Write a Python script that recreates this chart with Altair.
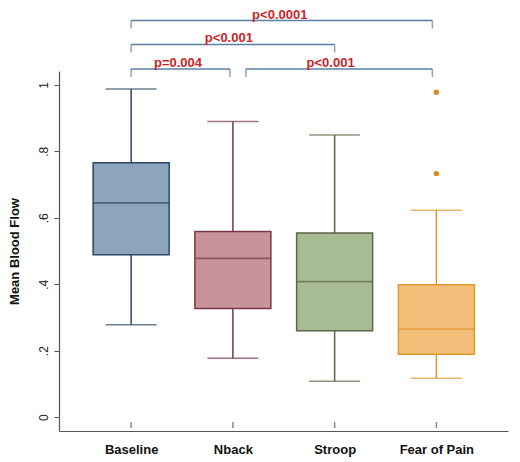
import altair as alt
import pandas as pd

# ---- data ----
cats = ["Baseline", "Nback", "Stroop", "Fear of Pain"]
lower = [0.278, 0.177, 0.108, 0.117]
q1 = [0.489, 0.327, 0.260, 0.189]
median = [0.645, 0.478, 0.408, 0.265]
q3 = [0.766, 0.559, 0.554, 0.398]
upper = [0.988, 0.890, 0.849, 0.623]

outlier_cat = ["Fear of Pain", "Fear of Pain"]
outlier_val = [0.978, 0.733]

y_ticks = [0, 0.2, 0.4, 0.6, 0.8, 1]

cmp_from = ["Baseline", "Baseline", "Baseline", "Nback"]
cmp_to = ["Fear of Pain", "Stroop", "Nback", "Fear of Pain"]
cmp_label = ["p<0.0001", "p<0.001", "p=0.004", "p<0.001"]
cmp_level = [1.194, 1.122, 1.048, 1.048]

# ---- styles ----
fills = ["#8ca5bd", "#c9939b", "#a8bc93", "#f3c07c"]
strokes = ["#2d4762", "#7a3a44", "#5b6644", "#e0972e"]
OUT_COLOR = "#d98b1c"
BR = "#5b7ea6"
RED = "#cc1f27"
FONT = "Liberation Sans"

pos = {c: i + 1 for i, c in enumerate(cats)}
box = pd.DataFrame({"cat": cats, "lower": lower, "q1": q1, "median": median,
                    "q3": q3, "upper": upper})
box["x"] = box["cat"].map(pos)
outs = pd.DataFrame({"cat": outlier_cat, "val": outlier_val})
outs["x"] = outs["cat"].map(pos)

label_expr = " : ".join(
    [f"datum.value == {i + 1} ? '{c}'" for i, c in enumerate(cats)]) + " : ''"

xscale = alt.Scale(domain=[0.34, 4.655], nice=False, zero=False)
yscale = alt.Scale(domain=[-0.042, 1.042], nice=False, zero=False)

X = alt.X("x:Q", scale=xscale, title=None,
          axis=alt.Axis(values=[1, 2, 3, 4], labelExpr=label_expr, ticks=False,
                        grid=False, domainColor="#555555", domainWidth=1.2,
                        labelFont=FONT, labelFontSize=13, labelFontWeight="bold",
                        labelColor="#111111", labelPadding=12))
Yaxis = alt.Axis(values=y_ticks, grid=False, title="Mean Blood Flow",
                 labelExpr="datum.value == 0 ? '0' : datum.value == 1 ? '1' : replace(format(datum.value, '.1f'), '0.', '.')",
                 labelAngle=270, labelAlign="center", labelBaseline="bottom",
                 labelFont=FONT, labelFontSize=12, labelColor="#222222",
                 labelPadding=4, tickSize=5, tickColor="#555555",
                 domainColor="#555555", domainWidth=1.2,
                 titleFont=FONT, titleFontSize=13, titleFontWeight="bold",
                 titleColor="#111111", titleAngle=270, titleBaseline="middle",
                 titleX=-45, titleY=180)

fill_enc = alt.Fill("cat:N", scale=alt.Scale(domain=cats, range=fills), legend=None)
stroke_enc = alt.Stroke("cat:N", scale=alt.Scale(domain=cats, range=strokes), legend=None)
color_enc = alt.Color("cat:N", scale=alt.Scale(domain=cats, range=strokes), legend=None)

base = alt.Chart(box)

whisk = base.mark_rule(strokeWidth=1.5).encode(
    x=X, y=alt.Y("lower:Q", scale=yscale, axis=Yaxis), y2="upper:Q", stroke=stroke_enc)
boxes = base.mark_bar(size=76, orient="vertical", strokeWidth=1.5).encode(
    x="x:Q", y="q1:Q", y2="q3:Q", fill=fill_enc, stroke=stroke_enc)
med = base.mark_tick(orient="horizontal", size=76, thickness=1.8).encode(
    x="x:Q", y="median:Q", color=color_enc)
cap_lo = base.mark_tick(orient="horizontal", size=51, thickness=1.5).encode(
    x="x:Q", y="lower:Q", color=color_enc)
cap_hi = base.mark_tick(orient="horizontal", size=51, thickness=1.5).encode(
    x="x:Q", y="upper:Q", color=color_enc)
xticks = base.mark_tick(orient="vertical", size=6, thickness=1.5, color="#555555").encode(
    x="x:Q", y=alt.value(354))
pts = alt.Chart(outs).mark_circle(size=30, opacity=1, color=OUT_COLOR).encode(
    x="x:Q", y="val:Q")

# offsets (pixels) so bracket ends sit as in the reference
off_from = [0, 0, 0, 13]
off_to = [-4, 0, -3, -4]

layers = [whisk, boxes, med, cap_lo, cap_hi, xticks, pts]
for a, b, lbl, lvl, o1, o2 in zip(cmp_from, cmp_to, cmp_label, cmp_level, off_from, off_to):
    d = pd.DataFrame({"a": [pos[a]], "b": [pos[b]], "lvl": [lvl], "lbl": [lbl],
                      "mid": [(pos[a] + pos[b]) / 2]})
    c = alt.Chart(d)
    layers.append(c.mark_rule(color=BR, strokeWidth=1.5, xOffset=o1, x2Offset=o2).encode(
        x="a:Q", x2="b:Q", y="lvl:Q"))
    layers.append(c.mark_tick(orient="vertical", size=8, thickness=1.5, yOffset=4,
                              xOffset=o1, color=BR).encode(x="a:Q", y="lvl:Q"))
    layers.append(c.mark_tick(orient="vertical", size=8, thickness=1.5, yOffset=4,
                              xOffset=o2, color=BR).encode(x="b:Q", y="lvl:Q"))
    layers.append(c.mark_text(color=RED, font=FONT, fontSize=13, fontWeight="bold",
                              baseline="middle", dy=-6, dx=-4).encode(
        x="mid:Q", y="lvl:Q", text="lbl:N"))

chart = alt.layer(*layers).properties(
    width=449, height=360,
    autosize=alt.AutoSizeParams(type="none"),
    padding={"left": 51, "top": 63, "right": 2, "bottom": 28},
    background="white",
).configure_view(stroke=None)

chart.save("out.html", embed_options={"renderer": "svg", "actions": False})
